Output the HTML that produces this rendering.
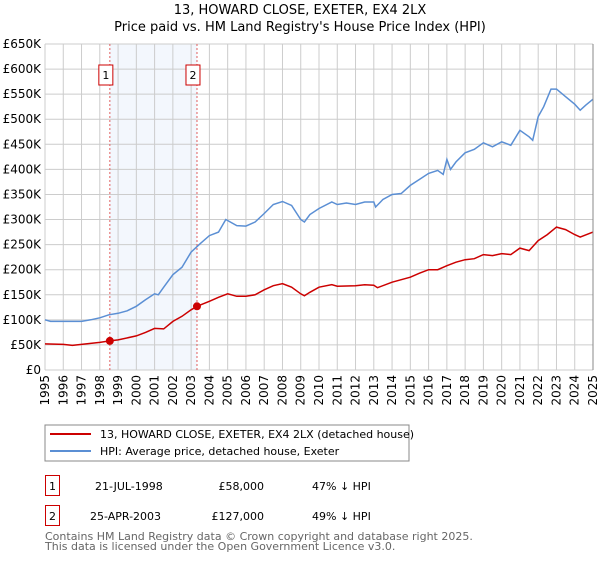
<!DOCTYPE html>
<html><head><meta charset="utf-8"><style>
body{margin:0;background:#fff;width:600px;height:560px;overflow:hidden;font-family:"DejaVu Sans","Liberation Sans",sans-serif;}
svg text{font-family:"DejaVu Sans","Liberation Sans",sans-serif;}
</style></head><body>
<svg id="c" width="600" height="560" xmlns="http://www.w3.org/2000/svg">
<text x="300" y="14" text-anchor="middle" font-size="13" fill="#000">13, HOWARD CLOSE, EXETER, EX4 2LX</text>
<text x="300" y="31" text-anchor="middle" font-size="13" fill="#000">Price paid vs. HM Land Registry's House Price Index (HPI)</text>
<g id="grid"></g><g id="series"></g><g id="axes"></g>
<rect x="45" y="425" width="364" height="36" fill="#fff" stroke="#888"/>
<line x1="50" y1="434" x2="91" y2="434" stroke="#cc0000" stroke-width="2"/>
<text x="100" y="438" font-size="11">13, HOWARD CLOSE, EXETER, EX4 2LX (detached house)</text>
<line x1="50" y1="451" x2="91" y2="451" stroke="#5b8fd4" stroke-width="2"/>
<text x="100" y="455" font-size="11">HPI: Average price, detached house, Exeter</text>
<g>
<rect x="45.5" y="475.5" width="14" height="20" fill="#fff" stroke="#cc0000"/>
<text x="52.5" y="490" font-size="11" text-anchor="middle">1</text>
<text x="95" y="490" font-size="11">21-JUL-1998</text>
<text x="264" y="490" font-size="11" text-anchor="end">£58,000</text>
<text x="312" y="490" font-size="11">47% ↓ HPI</text></g>
<g>
<rect x="45.5" y="505.5" width="14" height="20" fill="#fff" stroke="#cc0000"/>
<text x="52.5" y="520" font-size="11" text-anchor="middle">2</text>
<text x="90" y="520" font-size="11">25-APR-2003</text>
<text x="264" y="520" font-size="11" text-anchor="end">£127,000</text>
<text x="312" y="520" font-size="11">49% ↓ HPI</text></g>
<text x="45" y="540" font-size="11" fill="#666">Contains HM Land Registry data © Crown copyright and database right 2025.</text>
<text x="45" y="550" font-size="11" fill="#666">This data is licensed under the Open Government Licence v3.0.</text>
</svg>
<script>
const hpiYears=[1995,1995.3,1996,1996.5,1997,1997.5,1998,1998.5,1999,1999.5,2000,2000.5,2001,2001.2,2001.5,2002,2002.5,2003,2003.5,2004,2004.5,2004.9,2005.5,2006,2006.5,2007,2007.5,2008,2008.5,2009,2009.2,2009.5,2010,2010.7,2011,2011.5,2012,2012.5,2013,2013.1,2013.5,2014,2014.5,2015,2015.5,2016,2016.5,2016.8,2017,2017.2,2017.5,2018,2018.5,2019,2019.5,2020,2020.5,2021,2021.5,2021.7,2022,2022.3,2022.7,2023,2023.5,2024,2024.3,2024.6,2025];
const hpiValues=[100,97,97,97,97,100,104,110,113,118,127,140,152,150,165,190,205,235,252,268,275,300,288,287,295,312,330,336,328,300,295,310,322,335,330,333,330,335,335,325,340,350,352,368,380,392,398,390,420,400,415,433,440,453,445,455,448,478,465,458,505,525,560,560,545,530,518,528,540];
const ppYears=[1995,1996,1996.5,1997,1998,1998.55,1999,2000,2000.5,2001,2001.5,2002,2002.5,2003,2003.32,2004,2004.5,2005,2005.5,2006,2006.5,2007,2007.5,2008,2008.5,2009,2009.2,2009.5,2010,2010.7,2011,2012,2012.5,2013,2013.2,2014,2015,2015.5,2016,2016.5,2017,2017.5,2018,2018.5,2019,2019.5,2020,2020.5,2021,2021.5,2022,2022.5,2023,2023.5,2024,2024.3,2025];
const ppValues=[52,51,49,51,55,58,60,68,75,83,82,97,107,120,127,137,145,152,147,147,150,160,168,172,165,152,148,155,165,170,167,168,170,169,164,175,185,193,200,200,208,215,220,222,230,228,232,230,243,238,258,270,285,280,270,265,275];
const saleYears=[1998.55,2003.32];
const saleValues=[58,127];
const saleLabels=["1","2"];
const yTicks=[0,50,100,150,200,250,300,350,400,450,500,550,600,650];
const yTickLabels=["£0","£50K","£100K","£150K","£200K","£250K","£300K","£350K","£400K","£450K","£500K","£550K","£600K","£650K"];
const xTicks=[1995,1996,1997,1998,1999,2000,2001,2002,2003,2004,2005,2006,2007,2008,2009,2010,2011,2012,2013,2014,2015,2016,2017,2018,2019,2020,2021,2022,2023,2024,2025];

const L=45,R=593,T=44,B=370;
const xs=y=>L+(y-1995)/30*(R-L);
const ys=v=>B-v/650*(B-T);
const NS="http://www.w3.org/2000/svg";
function mk(p,tag,at){const e=document.createElementNS(NS,tag);for(const k in at)e.setAttribute(k,at[k]);p.appendChild(e);return e;}
const grid=document.getElementById('grid'),ser=document.getElementById('series'),ax=document.getElementById('axes');
const sh=mk(grid,'rect',{x:xs(saleYears[0]),y:T,width:xs(saleYears[1])-xs(saleYears[0]),height:B-T,fill:'#eef3fc',opacity:0.7});


yTicks.forEach((v,i)=>{
 const l=mk(grid,'line',{x1:L,x2:R,y1:ys(v),y2:ys(v),stroke:'#ccc','stroke-width':1});
 
 
 const t=mk(ax,'text',{x:L-4,y:ys(v)+4,'text-anchor':'end','font-size':12});
 t.textContent=yTickLabels[i];
 
 
});
xTicks.forEach(y=>{
 const l=mk(grid,'line',{x1:xs(y),x2:xs(y),y1:T,y2:B,stroke:'#ccc','stroke-width':1});
 
 
 const px=xs(y)+4, py=B+5;
 const t=mk(ax,'text',{x:px,y:py,'font-size':12,'text-anchor':'end',transform:'rotate(-90 '+px+' '+py+')'});
 t.textContent=y;
 
 
});
const ra=mk(ax,'line',{x1:R,x2:R,y1:T,y2:B,stroke:'#888'});


saleYears.forEach((y,i)=>{
 const l=mk(ser,'line',{x1:xs(y),x2:xs(y),y1:T,y2:B,stroke:'#e06060','stroke-dasharray':'2,2'});
 
 
});
function path(xv,yv,c,name){
 const d=xv.map((x,i)=>(i?'L':'M')+xs(x).toFixed(1)+','+ys(yv[i]).toFixed(1)).join('');
 const p=mk(ser,'path',{d:d,fill:'none',stroke:c,'stroke-width':1.5});
 
 
}
path(hpiYears,hpiValues,'#5b8fd4','hpi-line');
path(ppYears,ppValues,'#cc0000','property-price-line');
saleYears.forEach((y,i)=>{
 const c=mk(ser,'circle',{cx:xs(y),cy:ys(saleValues[i]),r:4,fill:'#cc0000'});
 
 
 const bx=xs(y)-11;
 const r=mk(ser,'rect',{x:bx,y:65,width:14,height:20,fill:'#fff',stroke:'#cc0000'});
 
 
 const t=mk(ser,'text',{x:bx+7,y:79,'font-size':11,'text-anchor':'middle'});
 t.textContent=saleLabels[i];
 
 
});
</script>
</body></html>
